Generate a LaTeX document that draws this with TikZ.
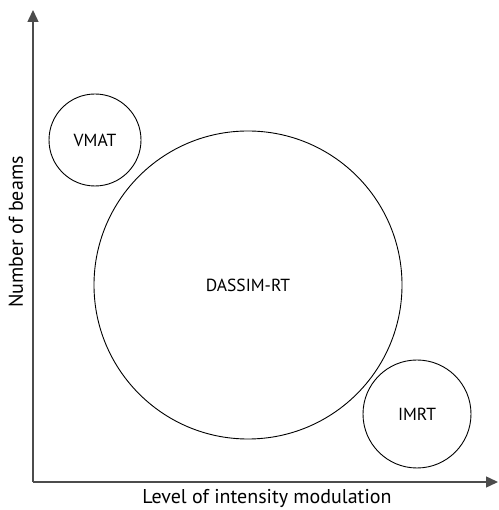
\documentclass[tikz,border=0pt]{standalone}
\usepackage{fontspec}
\setmainfont{PT Sans}
\usetikzlibrary{arrows.meta,positioning}

\begin{document}
\begin{tikzpicture}[
  x=1pt, y=1pt,
  technique/.style={draw, circle, inner sep=0pt, line width=0.9pt, font=\fontsize{17.5}{21}\selectfont},
  axis/.style={draw=black!70, line width=1.4pt, -{Triangle[length=12pt, width=11pt]}},
  axislabel/.style={font=\fontsize{20}{24}\selectfont},
]
\useasboundingbox (0,0) rectangle (498,510);

% axes
\coordinate (origin) at (33,28);
\coordinate (ytip) at (33,500);
\coordinate (xtip) at (498,28);
\draw[axis] (origin) -- (ytip);
\draw[axis] (origin) -- (xtip);

\node[axislabel, rotate=90] (ylabel) at (16,278) {Number of beams};
\node[axislabel] (xlabel) at (267,12) {Level of intensity modulation};

% techniques
\node[technique, minimum size=92pt] (vmat) at (95,370) {VMAT};
\node[technique, minimum size=308pt] (dassim) at (248,225) {DASSIM-RT};
\node[technique, minimum size=108pt] (imrt) at (417,96) {IMRT};
\end{tikzpicture}
\end{document}
